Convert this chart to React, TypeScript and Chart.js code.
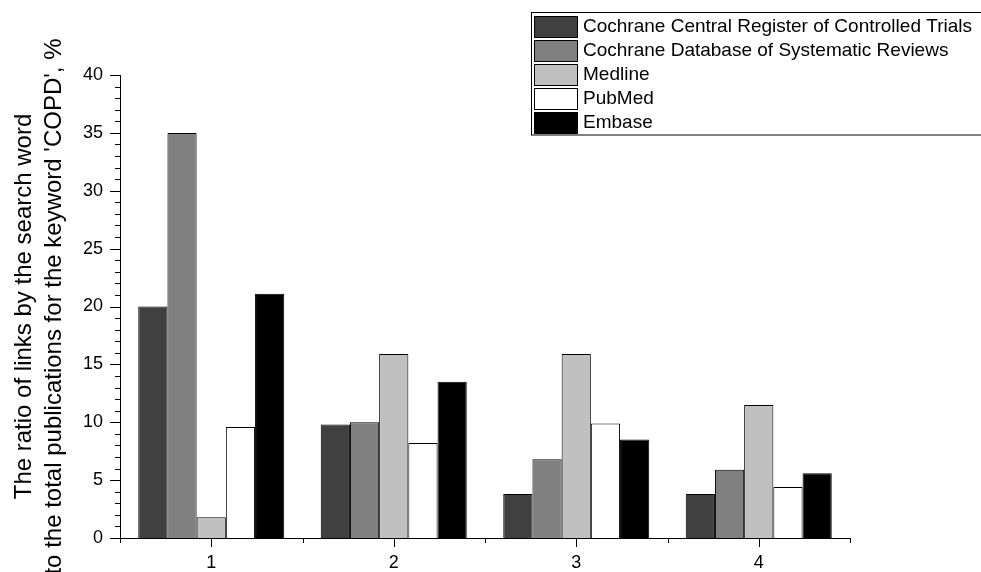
import React, { useEffect, useRef } from 'react';
import { Chart, registerables } from 'chart.js';

Chart.register(...registerables);

const categories = ['1', '2', '3', '4'];
const seriesNames = [
  'Cochrane Central Register of Controlled Trials',
  'Cochrane Database of Systematic Reviews',
  'Medline',
  'PubMed',
  'Embase',
];
const ccrctValues = [20.0, 9.8, 3.8, 3.8];
const cdsrValues = [35.0, 10.0, 6.8, 5.9];
const medlineValues = [1.8, 15.9, 15.9, 11.5];
const pubmedValues = [9.6, 8.2, 9.9, 4.4];
const embaseValues = [21.1, 13.5, 8.5, 5.6];
const seriesColors = ['#404040', '#808080', '#c0c0c0', '#ffffff', '#000000'];
const yMin = 0;
const yMax = 40;
const yMajorStep = 5;
const yMinorStep = 1;
const yTitleLines = [
  'The ratio of links by the search word',
  "to the total publications for the keyword 'COPD', %",
];

const FONT = "'Liberation Sans', Arial, Helvetica, sans-serif";

const ticksAndLegend = {
  id: 'ticksAndLegend',
  afterDraw(chart: any) {
    const ctx = chart.ctx;
    const xs = chart.scales.x;
    const ys = chart.scales.y;
    ctx.save();
    ctx.strokeStyle = '#000';
    ctx.lineWidth = 1;
    // y ticks
    const axisX = ys.right;
    for (let v = yMin; v <= yMax + 1e-9; v += yMinorStep) {
      const py = Math.round(ys.getPixelForValue(v)) + 0.5;
      const major = Math.abs(v / yMajorStep - Math.round(v / yMajorStep)) < 1e-9;
      const len = major ? 10 : 5;
      ctx.beginPath();
      ctx.moveTo(axisX + 0.5, py);
      ctx.lineTo(axisX - len, py);
      ctx.stroke();
    }
    // x ticks
    const axisY = xs.top;
    const n = categories.length;
    const centers = categories.map((_, i) => xs.getPixelForValue(i));
    const bounds: number[] = [xs.left];
    for (let i = 0; i < n - 1; i++) bounds.push((centers[i] + centers[i + 1]) / 2);
    bounds.push(xs.right);
    const drawX = (px: number, len: number) => {
      const x = Math.round(px) + 0.5;
      ctx.beginPath();
      ctx.moveTo(x, axisY);
      ctx.lineTo(x, axisY + len);
      ctx.stroke();
    };
    centers.forEach((c) => drawX(c, 9));
    bounds.forEach((b) => drawX(b, 5));

    // legend
    const lx = 531.5;
    const ly = 12.5;
    const rowH = 24;
    const rows = chart.data.datasets.length;
    ctx.strokeStyle = '#000';
    ctx.strokeRect(lx, ly, 600, rows * rowH + 2.5);
    ctx.font = `19px ${FONT}`;
    ctx.textBaseline = 'middle';
    ctx.textAlign = 'left';
    chart.data.datasets.forEach((ds: any, i: number) => {
      const sy = 16 + i * rowH;
      ctx.fillStyle = ds.backgroundColor;
      ctx.fillRect(534, sy, 43, 21);
      ctx.strokeStyle = '#000';
      ctx.strokeRect(534.5, sy + 0.5, 43, 21);
      ctx.fillStyle = '#000';
      ctx.fillText(ds.label, 583, sy + 11);
    });
    ctx.restore();
  },
};

export default function App() {
  const canvasRef = useRef<HTMLCanvasElement | null>(null);

  useEffect(() => {
    document.body.style.margin = '0';
    const canvas = canvasRef.current;
    if (!canvas) return;
    const valueSets = [ccrctValues, cdsrValues, medlineValues, pubmedValues, embaseValues];
    const chart = new Chart(canvas, {
      type: 'bar',
      data: {
        labels: categories,
        datasets: valueSets.map((vals, i) => ({
          label: seriesNames[i],
          data: vals,
          backgroundColor: seriesColors[i],
          borderColor: '#000000',
          borderWidth: 1,
          categoryPercentage: 0.8,
          barPercentage: 1.0,
        })),
      },
      options: {
        responsive: false,
        animation: false,
        devicePixelRatio: 1,
        layout: { padding: { left: 0, top: 75, right: 131, bottom: 0 } },
        plugins: {
          legend: { display: false },
          tooltip: { enabled: false },
          title: { display: false },
        },
        scales: {
          x: {
            type: 'category',
            offset: true,
            grid: { display: false, drawTicks: false },
            border: { display: true, color: '#000', width: 1 },
            ticks: {
              color: '#000',
              font: { family: FONT, size: 18 },
              padding: 14,
              maxRotation: 0,
            },
            afterFit: (scale: any) => {
              scale.height = 34;
            },
          },
          y: {
            min: yMin,
            max: yMax,
            grid: { display: false, drawTicks: false },
            border: { display: true, color: '#000', width: 1 },
            ticks: {
              stepSize: yMajorStep,
              color: '#000',
              font: { family: FONT, size: 18 },
              padding: 17,
            },
            title: {
              display: true,
              text: yTitleLines,
              color: '#000',
              font: { family: FONT, size: 24, lineHeight: 1.25 },
              padding: { top: 9, bottom: 0 },
            },
            afterFit: (scale: any) => {
              scale.width = 120;
            },
          },
        },
      },
      plugins: [ticksAndLegend],
    } as any);
    return () => chart.destroy();
  }, []);

  return (
    <div style={{ position: 'absolute', left: 0, top: 0, width: 981, height: 572, background: '#fff' }}>
      <canvas ref={canvasRef} width={981} height={572} style={{ display: 'block', width: 981, height: 572 }} />
    </div>
  );
}
